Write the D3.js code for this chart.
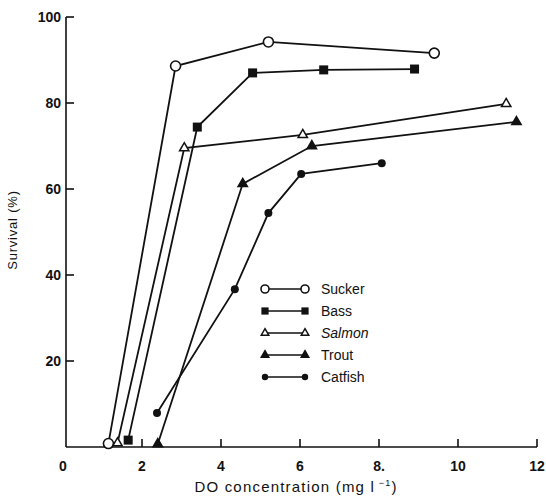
<!DOCTYPE html>
<html>
<head>
<meta charset="utf-8">
<script src="https://cdn.jsdelivr.net/npm/d3@7"></script>
<style>
  body { margin: 0; background: #fff; }
  text { font-family: "Liberation Sans", Arial, sans-serif; fill: #111; }
</style>
</head>
<body>
<div id="chart"></div>
<script>
// Dimensions
const width = 546, height = 499;

// Data: [DO concentration (mg/l), survival (%)]
const sucker  = [[1.15, 0.8], [2.85, 88.6], [5.2, 94.2], [9.4, 91.6]];
const bass    = [[1.65, 1.6], [3.4, 74.4], [4.8, 87.0], [6.6, 87.7], [8.9, 87.9]];
const salmon  = [[1.38, 0.9], [3.07, 69.5], [6.07, 72.6], [11.22, 79.8]];
const trout   = [[2.4, 0.7], [4.55, 61.2], [6.3, 70.0], [11.48, 75.6]];
const catfish = [[2.38, 7.9], [4.35, 36.7], [5.2, 54.4], [6.03, 63.5], [8.07, 66.0]];

const speciesNames = ["Sucker", "Bass", "Salmon", "Trout", "Catfish"];
const speciesData = [sucker, bass, salmon, trout, catfish];
const speciesMarks = ["openCircle", "square", "openTriangle", "triangle", "dot"];

const xTicks = [0, 2, 4, 6, 8, 10, 12];
const xTickLabels = ["0", "2", "4", "6", "8.", "10", "12"];
const yTicks = [20, 40, 60, 80, 100];

const ink = "#111";

const svg = d3.select("#chart")
  .append("svg")
  .attr("width", width)
  .attr("height", height);

// Scales
const x = d3.scaleLinear().domain([0, 12]).range([63, 537]);
const y = d3.scaleLinear().domain([0, 100]).range([447, 17]);

// Axes (ticks point inward)
const yAxis = svg.append("g").attr("transform", `translate(${x(0) + 3},0)`);
yAxis.append("line")
  .attr("x1", 0).attr("x2", 0)
  .attr("y1", y(0)).attr("y2", y(100))
  .attr("stroke", ink).attr("stroke-width", 1.6);
yAxis.selectAll(".tick")
  .data(yTicks)
  .enter()
  .append("line")
  .attr("x1", 0).attr("x2", 8)
  .attr("y1", d => y(d)).attr("y2", d => y(d))
  .attr("stroke", ink).attr("stroke-width", 1.6);
yAxis.selectAll(".lbl")
  .data(yTicks)
  .enter()
  .append("text")
  .attr("x", -5)
  .attr("y", d => y(d) + 5)
  .attr("text-anchor", "end")
  .style("font-size", "14px")
  .style("font-weight", "bold")
  .text(d => d);

const xAxis = svg.append("g");
xAxis.append("line")
  .attr("x1", x(0) + 3).attr("x2", x(12))
  .attr("y1", y(0)).attr("y2", y(0))
  .attr("stroke", ink).attr("stroke-width", 1.6);
xAxis.selectAll(".tick")
  .data(xTicks.slice(1))
  .enter()
  .append("line")
  .attr("x1", d => x(d)).attr("x2", d => x(d))
  .attr("y1", y(0)).attr("y2", y(0) - 8)
  .attr("stroke", ink).attr("stroke-width", 1.6);
xAxis.selectAll(".lbl")
  .data(xTicks)
  .enter()
  .append("text")
  .attr("x", d => x(d))
  .attr("y", 471)
  .attr("text-anchor", "middle")
  .style("font-size", "14px")
  .style("font-weight", "bold")
  .text((d, i) => xTickLabels[i]);

// Axis titles
svg.append("text")
  .attr("transform", "translate(17,230) rotate(-90)")
  .attr("text-anchor", "middle")
  .style("font-size", "13px")
  .style("letter-spacing", "0.8px")
  .text("Survival (%)");

const xTitle = svg.append("text")
  .attr("x", 296)
  .attr("y", 492)
  .attr("text-anchor", "middle")
  .style("font-size", "15px")
  .style("letter-spacing", "1.2px");
xTitle.append("tspan").text("DO concentration (mg l");
xTitle.append("tspan").attr("dy", -6).style("font-size", "9px").text(" \u22121");
xTitle.append("tspan").attr("dy", 6).text(")");

// Marker drawing
function drawMark(g, type, cx, cy, s) {
  s = s || 1;
  if (type === "openCircle") {
    g.append("circle").attr("cx", cx).attr("cy", cy).attr("r", 5 * s)
      .attr("fill", "#fff").attr("stroke", ink).attr("stroke-width", 1.6);
  } else if (type === "square") {
    g.append("rect").attr("x", cx - 4.5 * s).attr("y", cy - 4.5 * s)
      .attr("width", 9 * s).attr("height", 9 * s).attr("fill", ink);
  } else if (type === "openTriangle" || type === "triangle") {
    const tri = d3.symbol().type(d3.symbolTriangle).size(38 * s * s);
    g.append("path")
      .attr("d", tri())
      .attr("transform", `translate(${cx},${cy})`)
      .attr("fill", type === "triangle" ? ink : "#fff")
      .attr("stroke", ink).attr("stroke-width", 1.5);
  } else {
    g.append("circle").attr("cx", cx).attr("cy", cy).attr("r", 4 * s).attr("fill", ink);
  }
}

// Lines
const line = d3.line().x(d => x(d[0])).y(d => y(d[1]));
speciesData.forEach(data => {
  svg.append("path")
    .datum(data)
    .attr("d", line)
    .attr("fill", "none")
    .attr("stroke", ink)
    .attr("stroke-width", 1.8);
});
speciesData.forEach((data, i) => {
  const g = svg.append("g");
  data.forEach(d => drawMark(g, speciesMarks[i], x(d[0]), y(d[1])));
});

// Legend
const legend = svg.append("g").attr("transform", "translate(265,289)");
speciesNames.forEach((name, i) => {
  const row = legend.append("g").attr("transform", `translate(0,${i * 22})`);
  row.append("line")
    .attr("x1", 0).attr("x2", 40)
    .attr("y1", 0).attr("y2", 0)
    .attr("stroke", ink).attr("stroke-width", 1.6);
  drawMark(row, speciesMarks[i], 0, 0, 0.8);
  drawMark(row, speciesMarks[i], 40, 0, 0.8);
  row.append("text")
    .attr("x", 56)
    .attr("y", 5)
    .style("font-size", "14px")
    .style("font-style", name === "Salmon" ? "italic" : "normal")
    .text(name);
});
</script>
</body>
</html>
